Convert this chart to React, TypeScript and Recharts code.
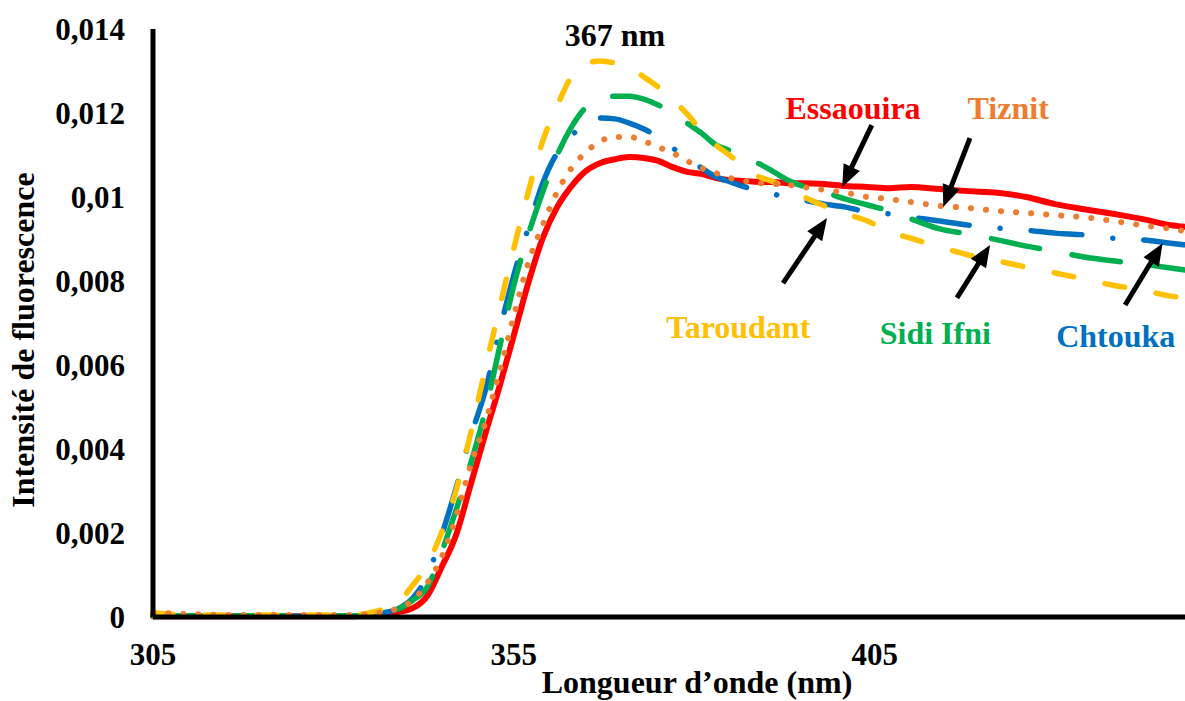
import { LineChart, Line, XAxis, YAxis, ReferenceLine, ReferenceDot } from "recharts";

const FONT = "'Liberation Serif', 'Times New Roman', serif";

// wavelength (nm)
const wavelengths = [
  305, 310, 315, 320, 325, 330, 333, 335, 337, 339, 341, 343, 345, 347, 349, 351, 353, 355, 357, 359, 361, 363, 365,
  367, 369, 371, 373, 375, 377, 379, 381, 383, 385, 387, 389, 391, 393, 395, 398, 401, 404, 407, 410, 414, 418, 422,
  426, 430, 434, 438, 442, 446, 448,
];

const essaouira = [
  0.00002, 0.00002, 0.00002, 0.00002, 0.00002, 0.00002, 0.00002, 0.00005, 0.00007, 0.00012, 0.00021, 0.0005, 0.00119,
  0.00195, 0.00314, 0.00433, 0.00548, 0.00671, 0.00795, 0.00902, 0.00976, 0.01026, 0.01062, 0.01081, 0.0109, 0.01095,
  0.01093, 0.01086, 0.01071, 0.0106, 0.01055, 0.01045, 0.0104, 0.01038, 0.01036, 0.01036, 0.01033, 0.01033, 0.01031,
  0.01026, 0.01024, 0.01021, 0.01024, 0.01019, 0.01014, 0.0101, 0.01, 0.00983, 0.00971, 0.0096, 0.00948, 0.00933,
  0.00929,
];

const tiznit = [
  0.0001, 0.00007, 0.00005, 0.00005, 0.00005, 0.00005, 0.00005, 0.00007, 0.00012, 0.00021, 0.0004, 0.00081, 0.00143,
  0.0024, 0.0036, 0.0046, 0.00583, 0.00717, 0.00843, 0.00933, 0.01012, 0.01069, 0.01107, 0.01133, 0.01143, 0.01143,
  0.01133, 0.01119, 0.01105, 0.01086, 0.01069, 0.01057, 0.01045, 0.01038, 0.01033, 0.01031, 0.01029, 0.01024, 0.01017,
  0.0101, 0.01, 0.00995, 0.00988, 0.00979, 0.00974, 0.00967, 0.00962, 0.00957, 0.00952, 0.00943, 0.00933, 0.00924,
  0.00919,
];

const chtouka = [
  0.00004, 0.00002, 0.00002, 0.00002, 0.00002, 0.00002, 0.00002, 0.00005, 0.0001, 0.0002, 0.00045, 0.00098, 0.00195,
  0.00307, 0.00429, 0.00536, 0.00679, 0.00814, 0.00926, 0.01033, 0.01105, 0.01145, 0.01179, 0.01188, 0.01186, 0.01176,
  0.01162, 0.01143, 0.01117, 0.01093, 0.01069, 0.01048, 0.01036, 0.01024, 0.01014, 0.01007, 0.00998, 0.00993, 0.00983,
  0.00976, 0.00964, 0.0096, 0.00952, 0.00943, 0.00933, 0.00926, 0.00921, 0.00914, 0.0091, 0.00902, 0.00898, 0.0089,
  0.00886,
];

const sidiIfni = [
  0.00003, 0.00003, 0.00003, 0.00003, 0.00003, 0.00003, 0.00003, 0.00005, 0.0001, 0.00019, 0.0004, 0.00071, 0.00155,
  0.00255, 0.00364, 0.00488, 0.0064, 0.0079, 0.0091, 0.01012, 0.011, 0.01167, 0.01214, 0.01233, 0.0124, 0.0124,
  0.01233, 0.01219, 0.012, 0.01176, 0.01152, 0.01124, 0.0111, 0.01093, 0.01079, 0.0106, 0.0104, 0.01026, 0.01012,
  0.00995, 0.00981, 0.00967, 0.00948, 0.00924, 0.00912, 0.00898, 0.00883, 0.00871, 0.00857, 0.00848, 0.0084, 0.00831,
  0.00826,
];

const taroudant = [
  0.0001, 0.00005, 0.00005, 0.00005, 0.00005, 0.00005, 0.00005, 0.0001, 0.00019, 0.00036, 0.00076, 0.00124, 0.00202,
  0.00302, 0.00436, 0.00588, 0.00735, 0.00878, 0.01012, 0.01133, 0.01217, 0.01287, 0.01317, 0.01324, 0.01319, 0.0131,
  0.01286, 0.01262, 0.01231, 0.01198, 0.01157, 0.01124, 0.01098, 0.01071, 0.01048, 0.01036, 0.01021, 0.01002, 0.00979,
  0.0096, 0.00943, 0.00917, 0.00902, 0.00881, 0.00862, 0.00848, 0.00833, 0.00819, 0.00805, 0.0079, 0.00779, 0.00764,
  0.0076,
];

const xTicks = [305, 355, 405];
const yTicks = [0, 0.002, 0.004, 0.006, 0.008, 0.01, 0.012, 0.014];

const data = wavelengths.map((wl, i) => ({
  wl,
  essaouira: essaouira[i],
  tiznit: tiznit[i],
  chtouka: chtouka[i],
  sidiIfni: sidiIfni[i],
  taroudant: taroudant[i],
}));

// annotation texts and arrows, in data coordinates
const notes = [
  { text: "Essaouira", color: "#FF0000", at: [402, 0.01212], from: [404.6, 0.01171], to: [400.5, 0.01024] },
  { text: "Tiznit", color: "#ED7D31", at: [423.5, 0.01212], from: [418.2, 0.0114], to: [414.5, 0.00976] },
  { text: "Taroudant", color: "#FFC000", at: [386.1, 0.0069], from: [392.3, 0.00795], to: [398.4, 0.0095] },
  { text: "Sidi Ifni", color: "#00B050", at: [413.4, 0.00676], from: [416.4, 0.0076], to: [421.0, 0.00886] },
  { text: "Chtouka", color: "#0070C0", at: [438.4, 0.00669], from: [439.7, 0.00743], to: [444.9, 0.0089] },
];

const Arrow = (props: any) => {
  const { x1, y1, x2, y2 } = props;
  const dx = x2 - x1;
  const dy = y2 - y1;
  const len = Math.hypot(dx, dy) || 1;
  const ux = dx / len;
  const uy = dy / len;
  const head = 22;
  const half = 9;
  const bx = x2 - ux * head;
  const by = y2 - uy * head;
  const pts = `${x2},${y2} ${bx - uy * half},${by + ux * half} ${bx + uy * half},${by - ux * half}`;
  return (
    <g>
      <line x1={x1} y1={y1} x2={bx + ux * 2} y2={by + uy * 2} stroke="#000" strokeWidth={5} />
      <polygon points={pts} fill="#000" />
    </g>
  );
};

const noteText = (text: string, color: string) => (p: any) =>
  (
    <text
      x={p.cx}
      y={p.cy}
      textAnchor="middle"
      dominantBaseline="central"
      fill={color}
      fontFamily={FONT}
      fontWeight="bold"
      fontSize={32}
    >
      {text}
    </text>
  );

const XTitle = ({ viewBox }: any) => (
  <text
    x={viewBox.x + viewBox.width / 2 + 28}
    y={viewBox.y + viewBox.height - 8}
    textAnchor="middle"
    fontFamily={FONT}
    fontWeight="bold"
    fontSize={32}
    fill="#000"
  >
    Longueur d’onde (nm)
  </text>
);

const YTitle = ({ viewBox }: any) => {
  const x = viewBox.x + 34;
  const y = viewBox.y + viewBox.height / 2 + 17;
  return (
    <text
      x={x}
      y={y}
      transform={`rotate(-90, ${x}, ${y})`}
      textAnchor="middle"
      fontFamily={FONT}
      fontWeight="bold"
      fontSize={32}
      fill="#000"
    >
      Intensité de fluorescence
    </text>
  );
};

const tickStyle = { fill: "#000", fontFamily: FONT, fontWeight: "bold", fontSize: 31 };

export default function App() {
  return (
    <div style={{ position: "absolute", left: 0, top: 0, background: "#fff" }}>
      <LineChart width={1185} height={701} data={data} margin={{ top: 29, right: 0, bottom: 0, left: 0 }}>
        <XAxis
          dataKey="wl"
          type="number"
          domain={[305, 448]}
          ticks={xTicks}
          height={84}
          axisLine={{ stroke: "#000", strokeWidth: 5 }}
          tickLine={false}
          tickSize={0}
          tickMargin={26}
          tick={tickStyle}
          label={<XTitle />}
        />
        <YAxis
          type="number"
          domain={[0, 0.014]}
          ticks={yTicks}
          width={153}
          axisLine={{ stroke: "#000", strokeWidth: 5 }}
          tickLine={false}
          tickSize={0}
          tickMargin={28}
          tick={tickStyle}
          tickFormatter={(v) => String(v).replace(".", ",")}
          label={<YTitle />}
        />
        <Line
          type="monotone"
          dataKey="essaouira"
          stroke="#FF0000"
          strokeWidth={6}
          strokeLinecap="round"
          dot={false}
          activeDot={false}
          isAnimationActive={false}
        />
        <Line
          type="monotone"
          dataKey="chtouka"
          stroke="#0070C0"
          strokeWidth={5.5}
          strokeDasharray="51 31 0.1 31"
          strokeLinecap="round"
          dot={false}
          activeDot={false}
          isAnimationActive={false}
        />
        <Line
          type="monotone"
          dataKey="sidiIfni"
          stroke="#00B050"
          strokeWidth={5.5}
          strokeDasharray="49 33"
          strokeLinecap="round"
          dot={false}
          activeDot={false}
          isAnimationActive={false}
        />
        <Line
          type="monotone"
          dataKey="taroudant"
          stroke="#FFC000"
          strokeWidth={5.5}
          strokeDasharray="20 32"
          strokeLinecap="round"
          dot={false}
          activeDot={false}
          isAnimationActive={false}
        />
        <Line
          type="monotone"
          dataKey="tiznit"
          stroke="#ED7D31"
          strokeWidth={6}
          strokeDasharray="0.1 15"
          strokeLinecap="round"
          dot={false}
          activeDot={false}
          isAnimationActive={false}
        />
        {notes.map((n) => (
          <ReferenceLine
            key={n.text + "-arrow"}
            segment={[
              { x: n.from[0], y: n.from[1] },
              { x: n.to[0], y: n.to[1] },
            ]}
            shape={Arrow}
          />
        ))}
        {notes.map((n) => (
          <ReferenceDot key={n.text} x={n.at[0]} y={n.at[1]} r={1} shape={noteText(n.text, n.color)} />
        ))}
        <ReferenceDot x={369} y={0.01386} r={1} shape={noteText("367 nm", "#000")} />
      </LineChart>
    </div>
  );
}
